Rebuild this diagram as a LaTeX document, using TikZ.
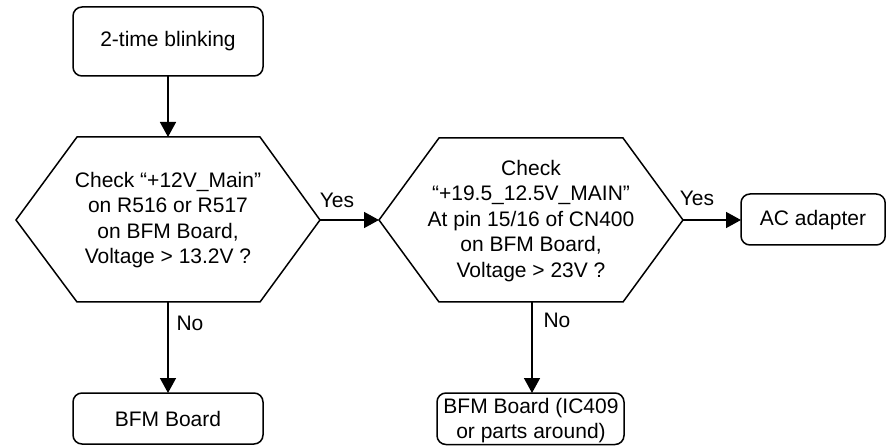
\documentclass[tikz,border=0pt]{standalone}
\usepackage{fontspec}
\setmainfont{Liberation Sans}
\usetikzlibrary{arrows.meta}
\begin{document}
\begin{tikzpicture}[x=1pt,y=-1pt,
  line width=1.5pt,
  txt/.style={font=\fontsize{21}{25.5}\selectfont, align=center, inner sep=0pt},
  rbox/.style={draw, rounded corners=9pt, line width=1.5pt},
  arr/.style={-{Triangle[length=15pt,width=16pt]}, line width=1.5pt},
  lbl/.style={font=\fontsize{21}{25.5}\selectfont, inner sep=0pt}]
\useasboundingbox (0,0) rectangle (886,446);
% start box
\draw[rbox] (73,7) rectangle (263,76);
\node[txt] (start) at (168,41.5) {2-time blinking};
\coordinate (startb) at (168,76);
% hexagon 1
\draw (77,137) -- (260,137) -- (320,220) -- (260,302) -- (77,302) -- (16,220) -- cycle;
\node[txt] (h1) at (168,220) {Check “+12V\_Main”\\on R516 or R517\\on BFM Board,\\Voltage > 13.2V ?};
\coordinate (h1t) at (168,137);
\coordinate (h1r) at (320,220);
\coordinate (h1b) at (168,302);
% hexagon 2
\draw (439,138) -- (623,138) -- (683,220) -- (623,302) -- (439,302) -- (379,220) -- cycle;
\node[txt] (h2) at (531,221) {Check\\“+19.5\_12.5V\_MAIN”\\At pin 15/16 of CN400\\on BFM Board,\\Voltage > 23V ?};
\coordinate (h2l) at (379,220);
\coordinate (h2r) at (683,220);
\coordinate (h2b) at (532,302);
% AC adapter
\draw[rbox] (741,194) rectangle (885.2,245);
\node[txt] (ac) at (813,220) {AC adapter};
\coordinate (acl) at (741,220);
% BFM board
\draw[rbox] (73,393) rectangle (263,444);
\node[txt] (bfm) at (168,419) {BFM Board};
\coordinate (bfmt) at (168,393);
% BFM board IC409
\draw[rbox] (437,393) rectangle (624,444.5);
\node[txt, font=\fontsize{21}{25}\selectfont] (bfm2) at (531,420.5) {BFM Board (IC409\\or parts around)};
\coordinate (bfm2t) at (532,393);
% connectors
\draw[arr] (startb) -- (h1t);
\draw[arr] (h1r) -- (h2l);
\draw[arr] (h2r) -- (acl);
\draw[arr] (h1b) -- (bfmt);
\draw[arr] (h2b) -- (bfm2t);
% labels
\node[lbl] (y1) at (337,200) {Yes};
\node[lbl] (y2) at (697,198) {Yes};
\node[lbl] (n1) at (190,323) {No};
\node[lbl] (n2) at (557,320) {No};
\end{tikzpicture}
\end{document}
